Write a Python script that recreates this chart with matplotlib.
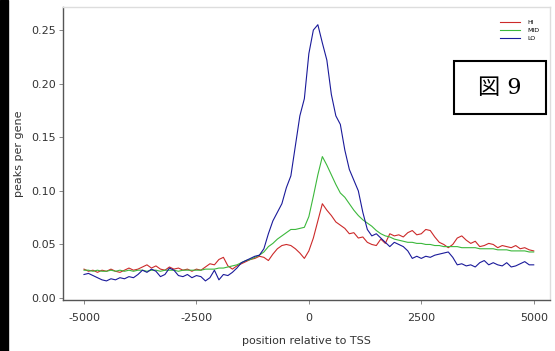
import numpy as np
import matplotlib
matplotlib.use("Agg")
import matplotlib.pyplot as plt
from matplotlib.patches import Rectangle

# position relative to TSS, 100 bp steps
pos = np.arange(-5000, 5001, 100)

# HI
hi = [0.027, 0.025, 0.026, 0.024, 0.026, 0.025, 0.027, 0.025, 0.024, 0.026,
      0.028, 0.026, 0.027, 0.029, 0.031, 0.028, 0.030, 0.027, 0.026, 0.029,
      0.027, 0.028, 0.026, 0.027, 0.025, 0.027, 0.026, 0.029, 0.032, 0.031,
      0.036, 0.038, 0.030, 0.027, 0.030, 0.032, 0.034, 0.036, 0.037, 0.039,
      0.038, 0.035, 0.041, 0.046, 0.049, 0.050, 0.049, 0.046, 0.042, 0.037,
      0.044, 0.056, 0.072, 0.088, 0.082, 0.077, 0.071, 0.068, 0.065, 0.060,
      0.061, 0.056, 0.057, 0.052, 0.050, 0.049, 0.055, 0.051, 0.060, 0.058,
      0.059, 0.057, 0.061, 0.063, 0.059, 0.060, 0.064, 0.063, 0.057, 0.052,
      0.050, 0.047, 0.050, 0.056, 0.058, 0.054, 0.051, 0.053, 0.048, 0.049,
      0.051, 0.050, 0.047, 0.049, 0.048, 0.047, 0.049, 0.046, 0.047, 0.045,
      0.044]

# MID
mid = [0.026, 0.026, 0.025, 0.026, 0.025, 0.025, 0.026, 0.025, 0.026, 0.025,
       0.026, 0.025, 0.026, 0.026, 0.025, 0.026, 0.026, 0.025, 0.026, 0.026,
       0.026, 0.025, 0.026, 0.026, 0.026, 0.026, 0.026, 0.027, 0.027, 0.027,
       0.028, 0.028, 0.029, 0.030, 0.031, 0.033, 0.035, 0.036, 0.038, 0.040,
       0.043, 0.048, 0.051, 0.055, 0.058, 0.061, 0.064, 0.064, 0.065, 0.066,
       0.076, 0.095, 0.115, 0.132, 0.124, 0.115, 0.106, 0.098, 0.094, 0.088,
       0.082, 0.077, 0.073, 0.070, 0.067, 0.063, 0.060, 0.058, 0.057, 0.055,
       0.054, 0.053, 0.052, 0.052, 0.051, 0.051, 0.050, 0.050, 0.049, 0.049,
       0.048, 0.048, 0.048, 0.048, 0.047, 0.047, 0.047, 0.047, 0.046, 0.046,
       0.046, 0.046, 0.045, 0.045, 0.045, 0.044, 0.044, 0.044, 0.044, 0.043,
       0.043]

# LO
lo = [0.022, 0.023, 0.021, 0.019, 0.017, 0.016, 0.018, 0.017, 0.019, 0.018,
      0.020, 0.019, 0.022, 0.026, 0.024, 0.027, 0.025, 0.020, 0.022, 0.028,
      0.026, 0.021, 0.020, 0.022, 0.019, 0.021, 0.020, 0.016, 0.019, 0.026,
      0.017, 0.022, 0.021, 0.024, 0.028, 0.033, 0.035, 0.037, 0.039, 0.040,
      0.046, 0.060, 0.072, 0.080, 0.088, 0.103, 0.114, 0.142, 0.170, 0.186,
      0.228, 0.250, 0.255, 0.238, 0.222, 0.190, 0.170, 0.162, 0.138, 0.120,
      0.110, 0.100, 0.080, 0.064, 0.058, 0.060, 0.056, 0.052, 0.048, 0.052,
      0.050, 0.048, 0.044, 0.037, 0.039, 0.037, 0.039, 0.038, 0.040, 0.041,
      0.042, 0.043, 0.038, 0.031, 0.032, 0.030, 0.031, 0.029, 0.033, 0.035,
      0.031, 0.033, 0.031, 0.030, 0.033, 0.029, 0.030, 0.032, 0.034, 0.031,
      0.031]

series = [("HI", hi, "#cc2a2a"), ("MID", mid, "#3cb83c"), ("LO", lo, "#1a1a9a")]
xticks = [-5000, -2500, 0, 2500, 5000]
yticks = [0.00, 0.05, 0.10, 0.15, 0.20, 0.25]

fig = plt.figure(figsize=(5.55, 3.51), dpi=100)
ax = fig.add_axes([0.1135, 0.145, 0.877, 0.835])

for name, vals, col in series:
    ax.plot(pos, vals, color=col, lw=0.8, label=name)

ax.set_xlim(-5467, 5356)
ax.set_ylim(-0.0019, 0.2715)
ax.set_xticks(xticks)
ax.set_xticklabels([str(t) for t in xticks])
ax.set_yticks(yticks)
ax.set_yticklabels(["%.2f" % t for t in yticks])
ax.tick_params(length=3, width=0.7, color="#888888", labelsize=8, labelcolor="#333333", pad=2)
ax.tick_params(axis="x", pad=6)

for s in ["left", "bottom"]:
    ax.spines[s].set_color("#555555")
    ax.spines[s].set_linewidth(1.0)
for s in ["top", "right"]:
    ax.spines[s].set_color("#dddddd")
    ax.spines[s].set_linewidth(1.0)

ax.set_xlabel("position relative to TSS", fontsize=8, color="#333333", labelpad=10)
ax.set_ylabel("peaks per gene", fontsize=8, color="#333333", labelpad=5)

leg = ax.legend(loc="upper right", bbox_to_anchor=(0.99, 0.975), frameon=False,
                fontsize=4.5, handlelength=3.2, labelspacing=0.4, handletextpad=1.2)

# black bar along left edge
fig.patches.append(Rectangle((0, 0), 8 / 555, 1, transform=fig.transFigure,
                             color="black", zorder=5))

# figure label box
fig.patches.append(Rectangle((454 / 555, 1 - 114 / 351), 92 / 555, 53 / 351,
                             transform=fig.transFigure, facecolor="white",
                             edgecolor="black", lw=1.5, zorder=5))
fig.text(500 / 555, 1 - 88 / 351, "図 9", ha="center", va="center", fontsize=16,
         family=["DejaVu Serif", "Noto Sans CJK JP"], zorder=6)

fig.savefig("out.png", dpi=100)
